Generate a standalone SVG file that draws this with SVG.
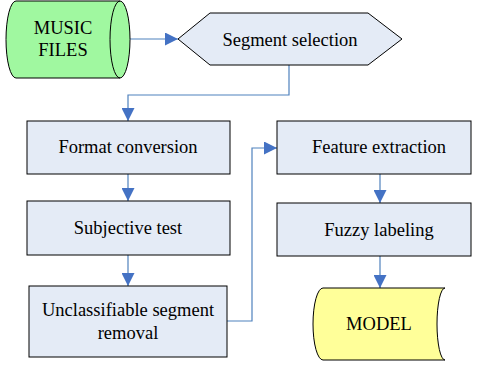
<svg xmlns="http://www.w3.org/2000/svg" width="480" height="367" viewBox="0 0 480 367">
<style>
.box{fill:#E4EBF6;stroke:#000;stroke-width:1}
text{font-family:"Liberation Serif","Tinos","Noto Serif","DejaVu Serif",serif;font-size:18.5px;fill:#000;text-anchor:middle}
.c{fill:none;stroke:#4F81BD;stroke-width:1.2}
</style>
<defs>
<marker id="ah" viewBox="0 0 10 10" refX="10" refY="5" markerWidth="13" markerHeight="13" markerUnits="userSpaceOnUse" orient="auto">
<path d="M0,0 L10,5 L0,10 Z" fill="#4472C4"/>
</marker>
</defs>
<rect width="480" height="367" fill="#fff"/>
<g id="connectors">
<path class="c" d="M130,39 H178" marker-end="url(#ah)"/>
<path class="c" d="M289,65 V95 H128 V121" marker-end="url(#ah)"/>
<path class="c" d="M128,174 V201" marker-end="url(#ah)"/>
<path class="c" d="M128,255 V286" marker-end="url(#ah)"/>
<path class="c" d="M227,321 H252 V148 H277" marker-end="url(#ah)"/>
<path class="c" d="M380,174 V203" marker-end="url(#ah)"/>
<path class="c" d="M380,256 V288" marker-end="url(#ah)"/>
</g>
<g id="music-files">
<path d="M16,1 H120 A10,38.5 0 0 1 120,78 H16 A10,38.5 0 0 1 16,1 Z" fill="#A0F8A0" stroke="#000"/>
<path d="M120,1 A10,38.5 0 0 0 120,78" fill="none" stroke="#000"/>
<text x="63" y="34">MUSIC</text>
<text x="63" y="56">FILES</text>
</g>
<g id="segment-selection">
<polygon points="178,39 210,13 368,13 402,39 368,65 210,65" class="box"/>
<text x="290" y="46">Segment selection</text>
</g>
<g id="format-conversion">
<rect class="box" x="27" y="121" width="203" height="53"/>
<text x="128" y="153">Format conversion</text>
</g>
<g id="subjective-test">
<rect class="box" x="27" y="201" width="203" height="54"/>
<text x="128" y="234">Subjective test</text>
</g>
<g id="unclassifiable">
<rect class="box" x="29" y="286" width="198" height="71"/>
<text x="128" y="316">Unclassifiable segment</text>
<text x="128" y="339">removal</text>
</g>
<g id="feature-extraction">
<rect class="box" x="277" y="121" width="194" height="53"/>
<text x="379" y="153">Feature extraction</text>
</g>
<g id="fuzzy-labeling">
<rect class="box" x="277" y="203" width="194" height="53"/>
<text x="379" y="236">Fuzzy labeling</text>
</g>
<g id="model">
<path d="M323,288 H445 A8,36 0 0 0 445,360 H323 A10,36 0 0 1 323,288 Z" fill="#FFFF99" stroke="#000"/>
<text x="379" y="330">MODEL</text>
</g>
</svg>
